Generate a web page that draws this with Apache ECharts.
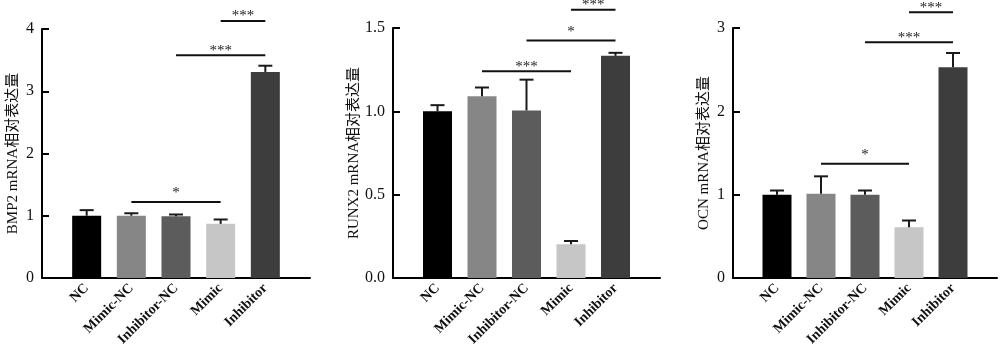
<!DOCTYPE html>
<html>
<head>
<meta charset="utf-8">
<script src="https://cdn.jsdelivr.net/npm/echarts@6/dist/echarts.min.js"></script>
<style>
  html, body { margin: 0; padding: 0; background: #fff; }
  #chart { width: 1000px; height: 354px; }
</style>
</head>
<body>
<div id="chart"></div>
<script>
// 分组与颜色
const categories = ['NC', 'Mimic-NC', 'Inhibitor-NC', 'Mimic', 'Inhibitor'];
const barColors = ['#000000', '#868686', '#5c5c5c', '#c6c6c6', '#3d3d3d'];

// BMP2
const bmp2Mean = [1.0, 1.0, 0.99, 0.87, 3.31];
const bmp2Err  = [0.09, 0.04, 0.03, 0.07, 0.10];
const bmp2Sig  = [[1, 3, 1.22], [2, 4, 3.58], [3, 4, 4.13]];
const bmp2SigText = ['*', '***', '***'];

// RUNX2
const runx2Mean = [1.0, 1.09, 1.005, 0.203, 1.333];
const runx2Err  = [0.037, 0.053, 0.185, 0.019, 0.018];
const runx2Sig  = [[1, 3, 1.24], [2, 4, 1.425], [3, 4, 1.61]];
const runx2SigText = ['***', '*', '***'];

// OCN
const ocnMean = [1.0, 1.01, 1.0, 0.61, 2.53];
const ocnErr  = [0.05, 0.21, 0.05, 0.08, 0.17];
const ocnSig  = [[1, 3, 1.37], [2, 4, 2.83], [3, 4, 3.19]];
const ocnSigText = ['*', '***', '***'];

const FONT = "'Liberation Serif', 'Noto Sans CJK SC', serif";

const panels = [
  { left: 42,  top: 29, width: 268, name: 'BMP2 mRNA相对表达量', max: 4, step: 1, dec: 0,
    mean: bmp2Mean, err: bmp2Err, sig: bmp2Sig, sigText: bmp2SigText },
  { left: 393, top: 28, width: 267, name: 'RUNX2 mRNA相对表达量', max: 1.5, step: 0.5, dec: 1,
    mean: runx2Mean, err: runx2Err, sig: runx2Sig, sigText: runx2SigText },
  { left: 733, top: 28, width: 264, name: 'OCN mRNA相对表达量', max: 3, step: 1, dec: 0,
    mean: ocnMean, err: ocnErr, sig: ocnSig, sigText: ocnSigText },
];

const grid = [], xAxis = [], yAxis = [], series = [];

panels.forEach((p, i) => {
  grid.push({ left: p.left, top: p.top, width: p.width, height: 278 - p.top });

  xAxis.push({
    gridIndex: i, type: 'value', min: -1, max: 5, interval: 1,
    axisLine: { show: true, onZero: false, lineStyle: { color: '#000', width: 2 } },
    axisTick: { show: false },
    splitLine: { show: false },
    axisLabel: {
      rotate: 45, margin: 8, color: '#111', fontFamily: FONT, fontSize: 14, fontWeight: 'bold',
      formatter: v => categories[v] || '',
    },
  });

  yAxis.push({
    gridIndex: i, type: 'value', min: 0, max: p.max, interval: p.step,
    name: p.name, nameLocation: 'middle', nameGap: 21, nameRotate: 90,
    nameTextStyle: { color: '#111', fontFamily: FONT, fontSize: 15 },
    axisLine: { show: true, onZero: false, lineStyle: { color: '#000', width: 2 } },
    axisTick: { show: true, inside: true, length: 7, lineStyle: { color: '#000', width: 2 } },
    splitLine: { show: false },
    axisLabel: {
      color: '#111', fontFamily: FONT, fontSize: 16, margin: 8,
      formatter: v => v.toFixed(p.dec),
    },
  });

  // 柱子
  series.push({
    type: 'bar', xAxisIndex: i, yAxisIndex: i, barWidth: 29,
    data: p.mean.map((v, k) => ({ value: [k, v], itemStyle: { color: barColors[k] } })),
    silent: true, z: 2,
  });

  // 误差线（只画上半）
  series.push({
    type: 'custom', xAxisIndex: i, yAxisIndex: i, z: 3, silent: true,
    data: p.mean.map((v, k) => [k, v, v + p.err[k]]),
    encode: { x: 0, y: [1, 2] },
    renderItem: (params, api) => {
      const lo = api.coord([api.value(0), api.value(1)]);
      const hi = api.coord([api.value(0), api.value(2)]);
      const style = { stroke: '#1a1a1a', lineWidth: 2 };
      return {
        type: 'group',
        children: [
          { type: 'line', shape: { x1: lo[0], y1: lo[1], x2: hi[0], y2: hi[1] }, style },
          { type: 'line', shape: { x1: hi[0] - 7, y1: hi[1], x2: hi[0] + 7, y2: hi[1] }, style },
        ],
      };
    },
  });

  // 显著性标注
  series.push({
    type: 'custom', xAxisIndex: i, yAxisIndex: i, z: 4, silent: true, clip: false,
    data: p.sig,
    encode: { x: [0, 1], y: 2 },
    renderItem: (params, api) => {
      const a = api.coord([api.value(0), api.value(2)]);
      const b = api.coord([api.value(1), api.value(2)]);
      const txt = p.sigText[params.dataIndex];
      const off = txt.length > 1 ? 3 : -1;
      return {
        type: 'group',
        children: [
          { type: 'line', shape: { x1: a[0], y1: a[1], x2: b[0], y2: b[1] },
            style: { stroke: '#111', lineWidth: 2 } },
          { type: 'text', x: (a[0] + b[0]) / 2, y: a[1] + off,
            style: { text: txt, fill: '#222', fontSize: 15,
              fontFamily: FONT, align: 'center', verticalAlign: 'bottom' } },
        ],
      };
    },
  });
});

const chart = echarts.init(document.getElementById('chart'));
chart.setOption({
  animation: false,
  backgroundColor: '#fff',
  grid, xAxis, yAxis, series,
});
window.addEventListener('resize', () => chart.resize());
</script>
</body>
</html>
